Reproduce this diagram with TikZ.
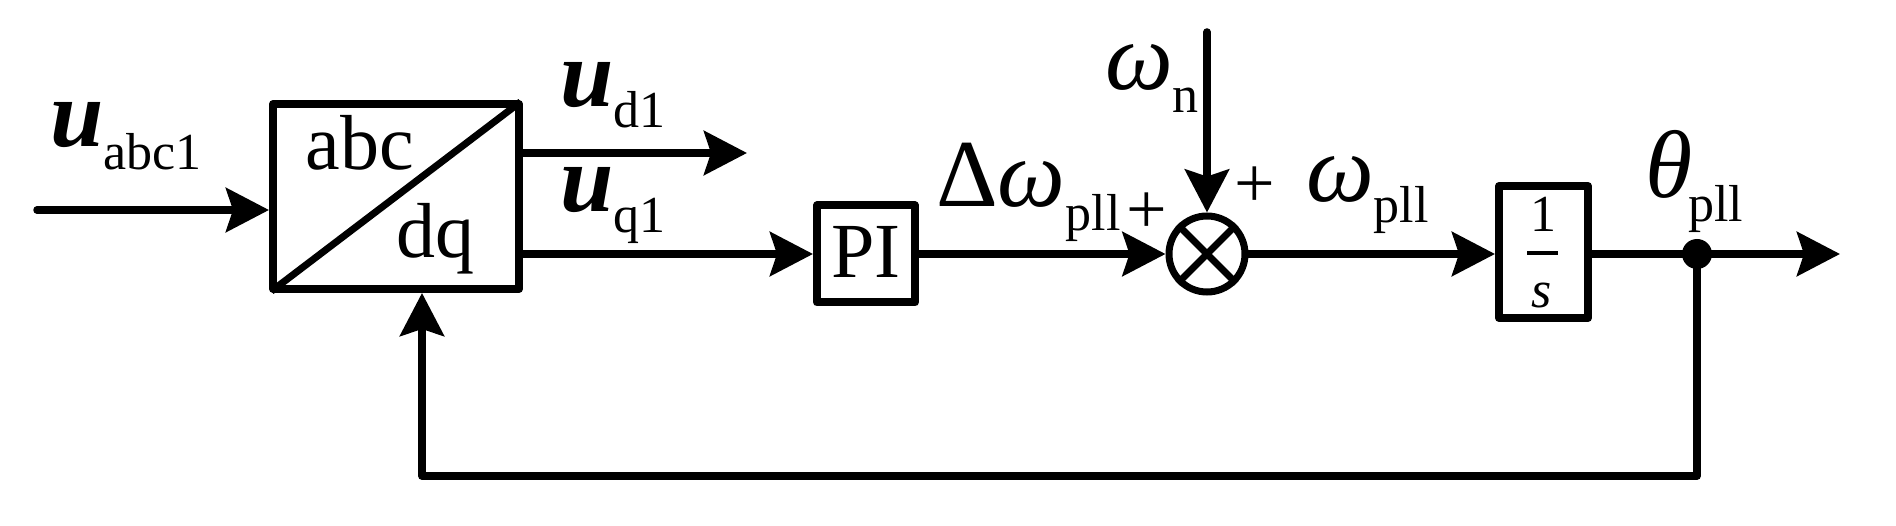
\documentclass[tikz,border=0pt]{standalone}
\usepackage{fontspec}
\setmainfont{Liberation Serif}
\usetikzlibrary{arrows.meta}
\newcommand\bigf{\fontsize{96}{100}\selectfont}
\newcommand\midf{\fontsize{78}{80}\selectfont}
\newcommand\subf{\fontsize{52}{54}\selectfont}
\newcommand\plusf{\fontsize{72}{74}\selectfont}
\begin{document}
\begin{tikzpicture}[x=1pt,y=-1pt,
  line/.style={line width=7.5pt, line cap=round, line join=round},
  arr/.style={line, -{Stealth[length=43pt,width=44pt,inset=7pt]}},
  blk/.style={draw, line width=8pt, inner sep=0pt, line join=round},
  lbl/.style={anchor=base west, inner sep=0pt},
  txt/.style={anchor=base, inner sep=0pt}]
\useasboundingbox (0,0) rectangle (1896,526);
% blocks
\node[blk, minimum width=246pt, minimum height=185pt] (conv) at (396,196.5) {};
\draw[line width=7pt, shorten <=3pt, shorten >=3pt] (conv.south west) -- (conv.north east);
\node[txt] (tabc) at (360,170) {\midf abc};
\node[txt] (tdq) at (435,258) {\midf dq};
\node[blk, minimum width=98pt, minimum height=97pt] (pi) at (866,254) {};
\node[txt] (tpi) at (866,278) {\midf PI};
\node[circle, draw, line width=7pt, minimum size=76pt, inner sep=0pt] (sum) at (1207,254) {};
\draw[line width=7pt] (sum.north west) -- (sum.south east);
\draw[line width=7pt] (sum.north east) -- (sum.south west);
\node[blk, minimum width=89pt, minimum height=132pt] (sbox) at (1543.5,252) {};
\node[txt] (tone) at (1543,232) {\subf 1};
\coordinate (barl) at (1527,253);
\coordinate (barr) at (1558,253);
\draw[line width=4pt] (barl) -- (barr);
\node[txt] (ts) at (1542,308) {\subf\textit{s}};
\node[circle, fill, minimum size=30pt, inner sep=0pt] (dot) at (1697,254) {};
% coordinates
\coordinate (in) at (37,210);
\coordinate (ud) at (747,153);
\coordinate (wn) at (1207,32);
\coordinate (out) at (1840,254);
\coordinate (fb) at (422,476);
% connectors
\draw[arr] (in) -- (in -| conv.west);
\draw[arr] (conv.east |- ud) -- (ud);
\draw[arr] (conv.east |- pi) -- (pi.west);
\draw[arr] (pi.east) -- (sum.west);
\draw[arr] (wn) -- (sum.north);
\draw[arr] (sum.east) -- (sbox.west |- sum.east);
\draw[line] (sbox.east |- dot) -- (dot.center);
\draw[arr] (dot.center) -- (out);
\draw[arr] (dot.center) |- (fb) -- (conv.south -| fb);
% labels
\node[lbl] (luabc) at (50,147) {\bigf\textbf{\textit{u}}\raisebox{-23pt}{\subf abc1}};
\node[lbl] (lud) at (560,107) {\bigf\textbf{\textit{u}}\raisebox{-21pt}{\subf d1}};
\node[lbl] (luq) at (560,212) {\bigf\textbf{\textit{u}}\raisebox{-21pt}{\subf q1}};
\node[lbl] (ldw) at (936,207) {\bigf Δ\textit{ω}\raisebox{-24pt}{\subf pll}};
\node[inner sep=0pt] (p1) at (1147,213) {\plusf +};
\node[lbl] (lwn) at (1105,90) {\bigf\textit{ω}\raisebox{-23pt}{\subf n}};
\node[inner sep=0pt] (p2) at (1255,187) {\plusf +};
\node[lbl] (lwp) at (1306,202) {\bigf\textit{ω}\raisebox{-21pt}{\subf pll}};
\node[lbl] (lth) at (1645,198) {\bigf\textit{θ}\kern-4pt\raisebox{-24pt}{\subf pll}};
\end{tikzpicture}
\end{document}
